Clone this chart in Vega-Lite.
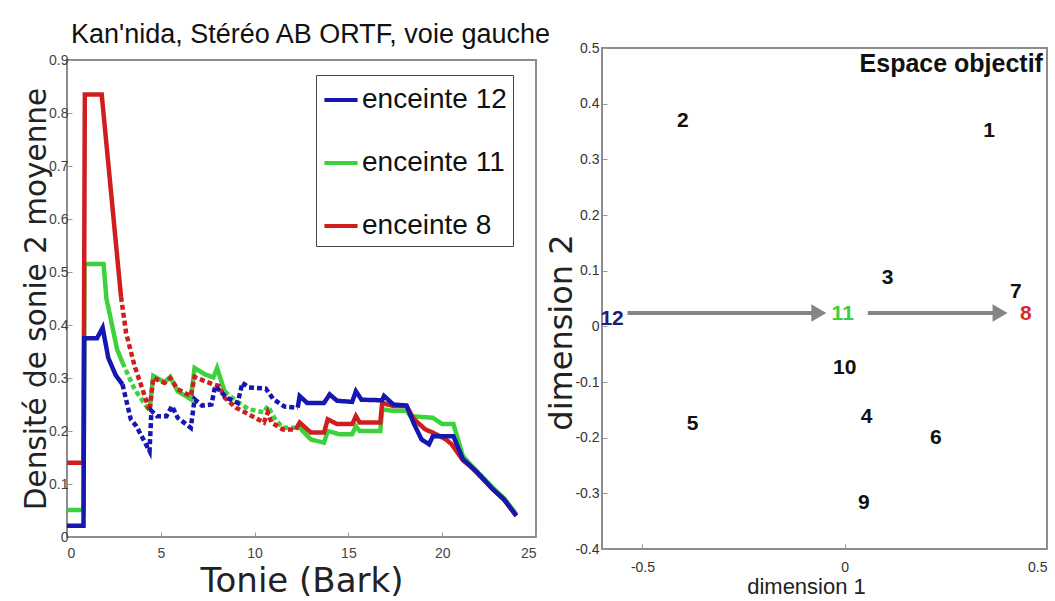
{
  "$schema": "https://vega.github.io/schema/vega-lite/v6.json",
  "background": "white",
  "padding": {"left": 20, "top": 20, "right": 0, "bottom": 0},
  "bounds": "flush",
  "center": true,
  "spacing": 66,
  "datasets": {
    "lines": [
      {"s":"enceinte 12","seg":"a","st":"solid","x":0,"y":0.021},
      {"s":"enceinte 12","seg":"a","st":"solid","x":0.88,"y":0.021},
      {"s":"enceinte 12","seg":"a","st":"solid","x":0.92,"y":0.375},
      {"s":"enceinte 12","seg":"a","st":"solid","x":1.6,"y":0.375},
      {"s":"enceinte 12","seg":"a","st":"solid","x":1.9,"y":0.395},
      {"s":"enceinte 12","seg":"a","st":"solid","x":2.2,"y":0.338},
      {"s":"enceinte 12","seg":"a","st":"solid","x":2.6,"y":0.305},
      {"s":"enceinte 12","seg":"a","st":"solid","x":2.96,"y":0.288},
      {"s":"enceinte 12","seg":"b","st":"dash","x":2.96,"y":0.288},
      {"s":"enceinte 12","seg":"b","st":"dash","x":3.4,"y":0.222},
      {"s":"enceinte 12","seg":"b","st":"dash","x":3.7,"y":0.209},
      {"s":"enceinte 12","seg":"b","st":"dash","x":4.4,"y":0.162},
      {"s":"enceinte 12","seg":"b","st":"dash","x":4.5,"y":0.238},
      {"s":"enceinte 12","seg":"b","st":"dash","x":4.8,"y":0.228},
      {"s":"enceinte 12","seg":"b","st":"dash","x":5.3,"y":0.228},
      {"s":"enceinte 12","seg":"b","st":"dash","x":5.6,"y":0.247},
      {"s":"enceinte 12","seg":"b","st":"dash","x":5.9,"y":0.225},
      {"s":"enceinte 12","seg":"b","st":"dash","x":6.6,"y":0.206},
      {"s":"enceinte 12","seg":"b","st":"dash","x":6.8,"y":0.26},
      {"s":"enceinte 12","seg":"b","st":"dash","x":7.2,"y":0.248},
      {"s":"enceinte 12","seg":"b","st":"dash","x":7.7,"y":0.25},
      {"s":"enceinte 12","seg":"b","st":"dash","x":7.9,"y":0.285},
      {"s":"enceinte 12","seg":"b","st":"dash","x":8.5,"y":0.263},
      {"s":"enceinte 12","seg":"b","st":"dash","x":9.1,"y":0.253},
      {"s":"enceinte 12","seg":"b","st":"dash","x":9.35,"y":0.291},
      {"s":"enceinte 12","seg":"b","st":"dash","x":9.7,"y":0.282},
      {"s":"enceinte 12","seg":"b","st":"dash","x":10.6,"y":0.28},
      {"s":"enceinte 12","seg":"b","st":"dash","x":11.0,"y":0.26},
      {"s":"enceinte 12","seg":"b","st":"dash","x":11.6,"y":0.246},
      {"s":"enceinte 12","seg":"b","st":"dash","x":12.3,"y":0.244},
      {"s":"enceinte 12","seg":"c","st":"solid","x":12.3,"y":0.244},
      {"s":"enceinte 12","seg":"c","st":"solid","x":12.4,"y":0.266},
      {"s":"enceinte 12","seg":"c","st":"solid","x":12.8,"y":0.253},
      {"s":"enceinte 12","seg":"c","st":"solid","x":13.7,"y":0.253},
      {"s":"enceinte 12","seg":"c","st":"solid","x":14.0,"y":0.269},
      {"s":"enceinte 12","seg":"c","st":"solid","x":14.4,"y":0.257},
      {"s":"enceinte 12","seg":"c","st":"solid","x":15.2,"y":0.255},
      {"s":"enceinte 12","seg":"c","st":"solid","x":15.4,"y":0.275},
      {"s":"enceinte 12","seg":"c","st":"solid","x":15.7,"y":0.259},
      {"s":"enceinte 12","seg":"c","st":"solid","x":16.8,"y":0.258},
      {"s":"enceinte 12","seg":"c","st":"solid","x":16.9,"y":0.266},
      {"s":"enceinte 12","seg":"c","st":"solid","x":17.4,"y":0.25},
      {"s":"enceinte 12","seg":"c","st":"solid","x":18.1,"y":0.248},
      {"s":"enceinte 12","seg":"c","st":"solid","x":18.5,"y":0.213},
      {"s":"enceinte 12","seg":"c","st":"solid","x":18.9,"y":0.184},
      {"s":"enceinte 12","seg":"c","st":"solid","x":19.3,"y":0.175},
      {"s":"enceinte 12","seg":"c","st":"solid","x":19.5,"y":0.19},
      {"s":"enceinte 12","seg":"c","st":"solid","x":20.6,"y":0.19},
      {"s":"enceinte 12","seg":"c","st":"solid","x":21.1,"y":0.147},
      {"s":"enceinte 12","seg":"c","st":"solid","x":21.6,"y":0.131},
      {"s":"enceinte 12","seg":"c","st":"solid","x":21.9,"y":0.121},
      {"s":"enceinte 12","seg":"c","st":"solid","x":22.7,"y":0.09},
      {"s":"enceinte 12","seg":"c","st":"solid","x":23.3,"y":0.071},
      {"s":"enceinte 12","seg":"c","st":"solid","x":23.95,"y":0.04},

      {"s":"enceinte 8","seg":"a","st":"solid","x":0,"y":0.14},
      {"s":"enceinte 8","seg":"a","st":"solid","x":0.88,"y":0.14},
      {"s":"enceinte 8","seg":"a","st":"solid","x":0.95,"y":0.835},
      {"s":"enceinte 8","seg":"a","st":"solid","x":1.85,"y":0.835},
      {"s":"enceinte 8","seg":"a","st":"solid","x":2.88,"y":0.453},
      {"s":"enceinte 8","seg":"b","st":"dash","x":2.88,"y":0.453},
      {"s":"enceinte 8","seg":"b","st":"dash","x":3.15,"y":0.385},
      {"s":"enceinte 8","seg":"b","st":"dash","x":3.6,"y":0.323},
      {"s":"enceinte 8","seg":"b","st":"dash","x":4.2,"y":0.26},
      {"s":"enceinte 8","seg":"b","st":"dash","x":4.4,"y":0.238},
      {"s":"enceinte 8","seg":"b","st":"dash","x":4.6,"y":0.30},
      {"s":"enceinte 8","seg":"b","st":"dash","x":5.2,"y":0.291},
      {"s":"enceinte 8","seg":"b","st":"dash","x":5.5,"y":0.30},
      {"s":"enceinte 8","seg":"b","st":"dash","x":5.9,"y":0.279},
      {"s":"enceinte 8","seg":"b","st":"dash","x":6.6,"y":0.266},
      {"s":"enceinte 8","seg":"b","st":"dash","x":6.8,"y":0.302},
      {"s":"enceinte 8","seg":"b","st":"dash","x":7.35,"y":0.294},
      {"s":"enceinte 8","seg":"b","st":"dash","x":7.8,"y":0.288},
      {"s":"enceinte 8","seg":"b","st":"dash","x":8.1,"y":0.285},
      {"s":"enceinte 8","seg":"b","st":"dash","x":8.4,"y":0.263},
      {"s":"enceinte 8","seg":"b","st":"dash","x":9.0,"y":0.244},
      {"s":"enceinte 8","seg":"b","st":"dash","x":9.5,"y":0.235},
      {"s":"enceinte 8","seg":"b","st":"dash","x":10.5,"y":0.216},
      {"s":"enceinte 8","seg":"b","st":"dash","x":10.7,"y":0.235},
      {"s":"enceinte 8","seg":"b","st":"dash","x":10.9,"y":0.216},
      {"s":"enceinte 8","seg":"b","st":"dash","x":11.5,"y":0.203},
      {"s":"enceinte 8","seg":"b","st":"dash","x":12.2,"y":0.203},
      {"s":"enceinte 8","seg":"c","st":"solid","x":12.2,"y":0.203},
      {"s":"enceinte 8","seg":"c","st":"solid","x":12.4,"y":0.216},
      {"s":"enceinte 8","seg":"c","st":"solid","x":13.0,"y":0.197},
      {"s":"enceinte 8","seg":"c","st":"solid","x":13.7,"y":0.197},
      {"s":"enceinte 8","seg":"c","st":"solid","x":13.9,"y":0.222},
      {"s":"enceinte 8","seg":"c","st":"solid","x":14.4,"y":0.213},
      {"s":"enceinte 8","seg":"c","st":"solid","x":15.2,"y":0.213},
      {"s":"enceinte 8","seg":"c","st":"solid","x":15.4,"y":0.228},
      {"s":"enceinte 8","seg":"c","st":"solid","x":15.6,"y":0.216},
      {"s":"enceinte 8","seg":"c","st":"solid","x":16.7,"y":0.216},
      {"s":"enceinte 8","seg":"c","st":"solid","x":16.8,"y":0.253},
      {"s":"enceinte 8","seg":"c","st":"solid","x":17.4,"y":0.247},
      {"s":"enceinte 8","seg":"c","st":"solid","x":18.1,"y":0.247},
      {"s":"enceinte 8","seg":"c","st":"solid","x":18.5,"y":0.222},
      {"s":"enceinte 8","seg":"c","st":"solid","x":19.1,"y":0.203},
      {"s":"enceinte 8","seg":"c","st":"solid","x":19.5,"y":0.197},
      {"s":"enceinte 8","seg":"c","st":"solid","x":20.2,"y":0.184},
      {"s":"enceinte 8","seg":"c","st":"solid","x":20.5,"y":0.175},
      {"s":"enceinte 8","seg":"c","st":"solid","x":21.1,"y":0.145},
      {"s":"enceinte 8","seg":"c","st":"solid","x":21.6,"y":0.13},
      {"s":"enceinte 8","seg":"c","st":"solid","x":22.7,"y":0.09},
      {"s":"enceinte 8","seg":"c","st":"solid","x":23.3,"y":0.07},
      {"s":"enceinte 8","seg":"c","st":"solid","x":23.95,"y":0.04},

      {"s":"enceinte 11","seg":"a","st":"solid","x":0,"y":0.051},
      {"s":"enceinte 11","seg":"a","st":"solid","x":0.88,"y":0.051},
      {"s":"enceinte 11","seg":"a","st":"solid","x":0.93,"y":0.515},
      {"s":"enceinte 11","seg":"a","st":"solid","x":1.95,"y":0.515},
      {"s":"enceinte 11","seg":"a","st":"solid","x":2.1,"y":0.45},
      {"s":"enceinte 11","seg":"a","st":"solid","x":2.4,"y":0.40},
      {"s":"enceinte 11","seg":"a","st":"solid","x":2.67,"y":0.354},
      {"s":"enceinte 11","seg":"a","st":"solid","x":2.96,"y":0.329},
      {"s":"enceinte 11","seg":"b","st":"dash","x":2.96,"y":0.329},
      {"s":"enceinte 11","seg":"b","st":"dash","x":3.6,"y":0.279},
      {"s":"enceinte 11","seg":"b","st":"dash","x":4.4,"y":0.238},
      {"s":"enceinte 11","seg":"c","st":"solid","x":4.4,"y":0.238},
      {"s":"enceinte 11","seg":"c","st":"solid","x":4.6,"y":0.304},
      {"s":"enceinte 11","seg":"c","st":"solid","x":5.2,"y":0.292},
      {"s":"enceinte 11","seg":"c","st":"solid","x":5.5,"y":0.302},
      {"s":"enceinte 11","seg":"c","st":"solid","x":5.9,"y":0.275},
      {"s":"enceinte 11","seg":"c","st":"solid","x":6.6,"y":0.26},
      {"s":"enceinte 11","seg":"c","st":"solid","x":6.8,"y":0.319},
      {"s":"enceinte 11","seg":"c","st":"solid","x":7.35,"y":0.307},
      {"s":"enceinte 11","seg":"c","st":"solid","x":7.8,"y":0.301},
      {"s":"enceinte 11","seg":"c","st":"solid","x":8.0,"y":0.319},
      {"s":"enceinte 11","seg":"c","st":"solid","x":8.4,"y":0.275},
      {"s":"enceinte 11","seg":"d","st":"dash","x":8.4,"y":0.275},
      {"s":"enceinte 11","seg":"d","st":"dash","x":9.0,"y":0.257},
      {"s":"enceinte 11","seg":"d","st":"dash","x":9.7,"y":0.241},
      {"s":"enceinte 11","seg":"d","st":"dash","x":10.5,"y":0.235},
      {"s":"enceinte 11","seg":"d","st":"dash","x":10.7,"y":0.247},
      {"s":"enceinte 11","seg":"d","st":"dash","x":11.1,"y":0.222},
      {"s":"enceinte 11","seg":"d","st":"dash","x":11.5,"y":0.206},
      {"s":"enceinte 11","seg":"d","st":"dash","x":12.2,"y":0.206},
      {"s":"enceinte 11","seg":"e","st":"solid","x":12.2,"y":0.206},
      {"s":"enceinte 11","seg":"e","st":"solid","x":12.4,"y":0.206},
      {"s":"enceinte 11","seg":"e","st":"solid","x":13.0,"y":0.184},
      {"s":"enceinte 11","seg":"e","st":"solid","x":13.7,"y":0.178},
      {"s":"enceinte 11","seg":"e","st":"solid","x":13.9,"y":0.2},
      {"s":"enceinte 11","seg":"e","st":"solid","x":14.5,"y":0.194},
      {"s":"enceinte 11","seg":"e","st":"solid","x":15.2,"y":0.194},
      {"s":"enceinte 11","seg":"e","st":"solid","x":15.4,"y":0.209},
      {"s":"enceinte 11","seg":"e","st":"solid","x":15.6,"y":0.2},
      {"s":"enceinte 11","seg":"e","st":"solid","x":16.7,"y":0.2},
      {"s":"enceinte 11","seg":"e","st":"solid","x":16.8,"y":0.241},
      {"s":"enceinte 11","seg":"e","st":"solid","x":17.4,"y":0.238},
      {"s":"enceinte 11","seg":"e","st":"solid","x":18.1,"y":0.238},
      {"s":"enceinte 11","seg":"e","st":"solid","x":18.3,"y":0.228},
      {"s":"enceinte 11","seg":"e","st":"solid","x":19.5,"y":0.225},
      {"s":"enceinte 11","seg":"e","st":"solid","x":20.0,"y":0.213},
      {"s":"enceinte 11","seg":"e","st":"solid","x":20.6,"y":0.213},
      {"s":"enceinte 11","seg":"e","st":"solid","x":21.1,"y":0.153},
      {"s":"enceinte 11","seg":"e","st":"solid","x":21.6,"y":0.133},
      {"s":"enceinte 11","seg":"e","st":"solid","x":22.7,"y":0.093},
      {"s":"enceinte 11","seg":"e","st":"solid","x":23.3,"y":0.073},
      {"s":"enceinte 11","seg":"e","st":"solid","x":23.95,"y":0.043}
    ],
    "pts": [
      {"label":"1","grp":"n","x":0.357,"y":0.351},
      {"label":"2","grp":"n","x":-0.40,"y":0.369},
      {"label":"3","grp":"n","x":0.106,"y":0.086},
      {"label":"4","grp":"n","x":0.054,"y":-0.163},
      {"label":"5","grp":"n","x":-0.376,"y":-0.176},
      {"label":"6","grp":"n","x":0.225,"y":-0.20},
      {"label":"7","grp":"n","x":0.423,"y":0.061},
      {"label":"8","grp":"8","x":0.448,"y":0.023},
      {"label":"9","grp":"n","x":0.047,"y":-0.317},
      {"label":"10","grp":"n","x":0.0,"y":-0.075},
      {"label":"11","grp":"11","x":-0.005,"y":0.023},
      {"label":"12","grp":"12","x":-0.575,"y":0.014}
    ],
    "arrows": [
      {"x1":-0.537,"x2":-0.064,"y":0.024},
      {"x1":0.057,"x2":0.384,"y":0.024}
    ],
    "note": [
      {"label":"Espace objectif","x":0.49,"y":0.4575}
    ]
  },
  "hconcat": [
    {
      "width": 469,
      "height": 477,
      "title": {"text": "Kan'nida, Stéréo AB ORTF, voie gauche", "font": "Liberation Sans", "fontSize": 27, "fontWeight": "normal", "color": "#111", "offset": 4, "anchor": "middle", "dx": 9},
      "data": {"name": "lines"},
      "encoding": {
        "x": {"field": "x", "type": "quantitative", "scale": {"domain": [0, 25], "nice": false},
              "axis": {"values": [0, 5, 10, 15, 20, 25], "title": "Tonie (Bark)", "titleFont": "DejaVu Sans", "titleFontSize": 34, "titleColor": "#222", "titlePadding": 4, "labelPadding": 14}},
        "y": {"field": "y", "type": "quantitative", "scale": {"domain": [0, 0.9], "nice": false},
              "axis": {"values": [0, 0.1, 0.2, 0.3, 0.4, 0.5, 0.6, 0.7, 0.8, 0.9], "labelExpr": "datum.value == 0 ? '0' : format(datum.value, '.1f')", "title": "Densité de sonie 2 moyenne", "titleFont": "DejaVu Sans", "titleFontSize": 29.5, "titleColor": "#222", "titlePadding": -3, "labelPadding": 4}},
        "color": {"field": "s", "type": "nominal",
                  "scale": {"domain": ["enceinte 12", "enceinte 11", "enceinte 8"], "range": ["#1616b0", "#3cd23c", "#d01e1e"]},
                  "legend": {"orient": "none", "legendX": 249, "legendY": 15, "title": null, "symbolType": "stroke", "symbolSize": 1100, "symbolStrokeWidth": 4, "labelFont": "Liberation Sans", "labelFontSize": 28, "labelColor": "#111", "rowPadding": 30, "padding": 6, "strokeColor": "#444", "fillColor": "white", "labelOffset": 2, "labelLimit": 400}},
        "strokeDash": {"field": "st", "type": "nominal", "scale": {"domain": ["solid", "dash"], "range": [[1, 0], [5, 3]]}, "legend": null},
        "detail": {"field": "seg"}
      },
      "layer": [
        {"transform": [{"filter": "datum.s == 'enceinte 11'"}], "mark": {"type": "line", "strokeWidth": 4.5}},
        {"transform": [{"filter": "datum.s == 'enceinte 8'"}], "mark": {"type": "line", "strokeWidth": 4.5}},
        {"transform": [{"filter": "datum.s == 'enceinte 12'"}], "mark": {"type": "line", "strokeWidth": 4.5}}
      ]
    },
    {
      "width": 445,
      "height": 501,
      "layer": [
        {
          "data": {"name": "arrows"},
          "mark": {"type": "rule", "strokeWidth": 4, "color": "#858585"},
          "encoding": {
            "x": {"field": "x1", "type": "quantitative", "scale": {"domain": [-0.6, 0.5], "nice": false},
                  "axis": {"values": [-0.5, 0, 0.5], "labelExpr": "datum.value == 0 ? '0' : (datum.value < 0 ? '-' + format(-datum.value, '.1f') : format(datum.value, '.1f'))", "title": "dimension 1", "titleFont": "Liberation Sans", "titleFontSize": 22, "titleColor": "#222", "titleX": 204, "labelColor": "#333", "labelPadding": 16, "titlePadding": 2}},
            "x2": {"field": "x2"},
            "y": {"field": "y", "type": "quantitative", "scale": {"domain": [-0.4, 0.5], "nice": false},
                  "axis": {"values": [-0.4, -0.3, -0.2, -0.1, 0, 0.1, 0.2, 0.3, 0.4, 0.5], "labelExpr": "datum.value == 0 ? '0' : (datum.value < 0 ? '-' + format(-datum.value, '.1f') : format(datum.value, '.1f'))", "title": "dimension 2", "titleFont": "DejaVu Sans", "titleFontSize": 32, "titleColor": "#222", "titleY": 284, "labelColor": "#333", "labelPadding": 8, "titlePadding": -4}}
          }
        },
        {
          "data": {"name": "arrows"},
          "mark": {"type": "point", "shape": "triangle-right", "filled": true, "size": 300, "color": "#858585", "opacity": 1},
          "encoding": {
            "x": {"field": "x2", "type": "quantitative"},
            "y": {"field": "y", "type": "quantitative"}
          }
        },
        {
          "data": {"name": "pts"},
          "mark": {"type": "text", "font": "Liberation Sans", "fontWeight": "bold", "fontSize": 21, "align": "center", "baseline": "middle"},
          "encoding": {
            "x": {"field": "x", "type": "quantitative"},
            "y": {"field": "y", "type": "quantitative"},
            "text": {"field": "label"},
            "color": {"field": "grp", "type": "nominal", "scale": {"domain": ["12", "11", "8", "n"], "range": ["#1c1c78", "#3ccc3c", "#d42a2a", "#111111"]}, "legend": null}
          }
        },
        {
          "data": {"name": "note"},
          "mark": {"type": "text", "align": "right", "baseline": "alphabetic", "font": "Liberation Sans", "fontWeight": "bold", "fontSize": 25, "color": "#111"},
          "encoding": {
            "x": {"field": "x", "type": "quantitative"},
            "y": {"field": "y", "type": "quantitative"},
            "text": {"field": "label"}
          }
        }
      ]
    }
  ],
  "resolve": {"scale": {"color": "independent"}, "legend": {"color": "independent"}},
  "config": {
    "view": {"stroke": "#8c8c8c", "strokeWidth": 2},
    "axis": {"grid": false, "domain": false, "tickSize": -5, "tickColor": "#999", "tickWidth": 1, "labelFont": "Liberation Sans", "labelFontSize": 14, "labelColor": "#444", "titleFontWeight": "normal"}
  }
}
